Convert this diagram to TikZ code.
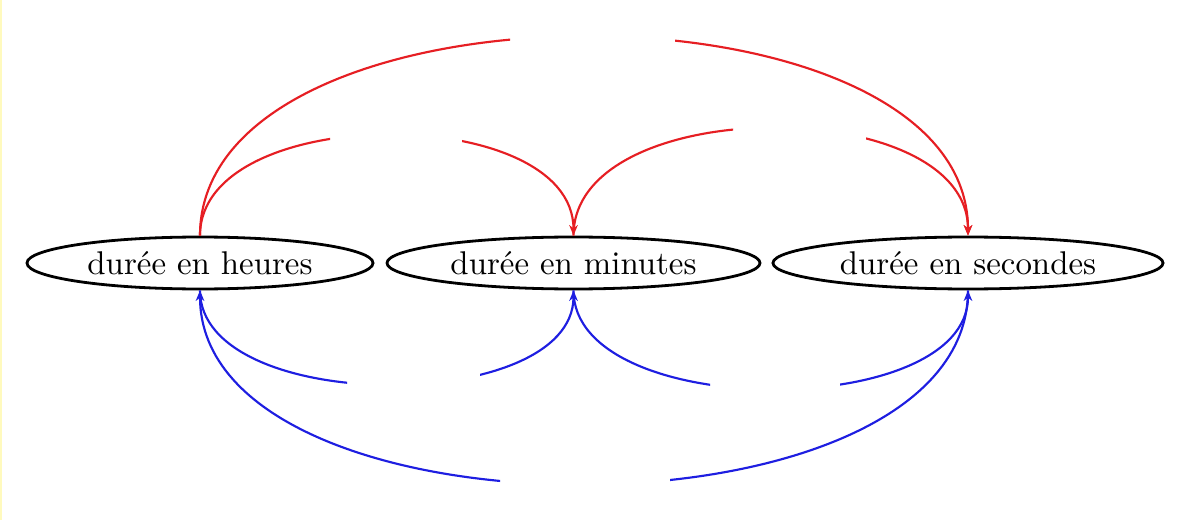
\documentclass[tikz,border=0pt]{standalone}
\usetikzlibrary{arrows.meta,shapes.geometric}
\definecolor{arcred}{RGB}{230,30,35}
\definecolor{arcblue}{RGB}{30,30,225}
\definecolor{edgeyellow}{RGB}{255,250,190}
\begin{document}
\begin{tikzpicture}[x=0.304pt,y=-0.304pt,
  box/.style={ellipse,draw=black,line width=0.85pt,inner sep=0pt,minimum height=15.8pt},
  redarc/.style={draw=arcred,line width=0.65pt},
  bluearc/.style={draw=arcblue,line width=0.65pt},
  tip/.style={-{Stealth[length=3.2pt,width=2.6pt,inset=1pt]}}]
\useasboundingbox (0,0) rectangle (1196,520);
\fill[white] (0,0) rectangle (1196,520);
\draw[edgeyellow,line width=0.6pt] (1,0) -- (1,520);

\node[box,minimum width=105.2pt] (h) at (200,263) {durée en heures};
\node[box,minimum width=113.4pt] (m) at (573.5,263) {durée en minutes};
\node[box,minimum width=118.6pt] (s) at (968,263) {durée en secondes};

\begin{scope}[even odd rule]
\clip (0,0) rectangle (1196,520)
  (675,15) rectangle (510,65)
  (462,115) rectangle (330,165)
  (866,110) rectangle (733,165)
  (480,355) rectangle (347,400)
  (840,360) rectangle (710,405)
  (670,455) rectangle (500,500);
% red arcs (top)
\draw[redarc,tip] (h.north) .. controls +(0,-265) and +(0,-265) .. (s.north);
\draw[redarc,tip] (h.north) .. controls +(0,-134) and +(0,-134) .. (m.north);
\draw[redarc,tip] (m.north) .. controls +(0,-143) and +(0,-143) .. (s.north);
% blue arcs (bottom)
\draw[bluearc,tip] (s.south) .. controls +(0,258) and +(0,258) .. (h.south);
\draw[bluearc,tip] (h.south) .. controls +(0,125) and +(0,125) .. (m.south);
\draw[bluearc,tip] (m.south) .. controls +(0,131) and +(0,131) .. (s.south);
\end{scope}
\end{tikzpicture}
\end{document}
